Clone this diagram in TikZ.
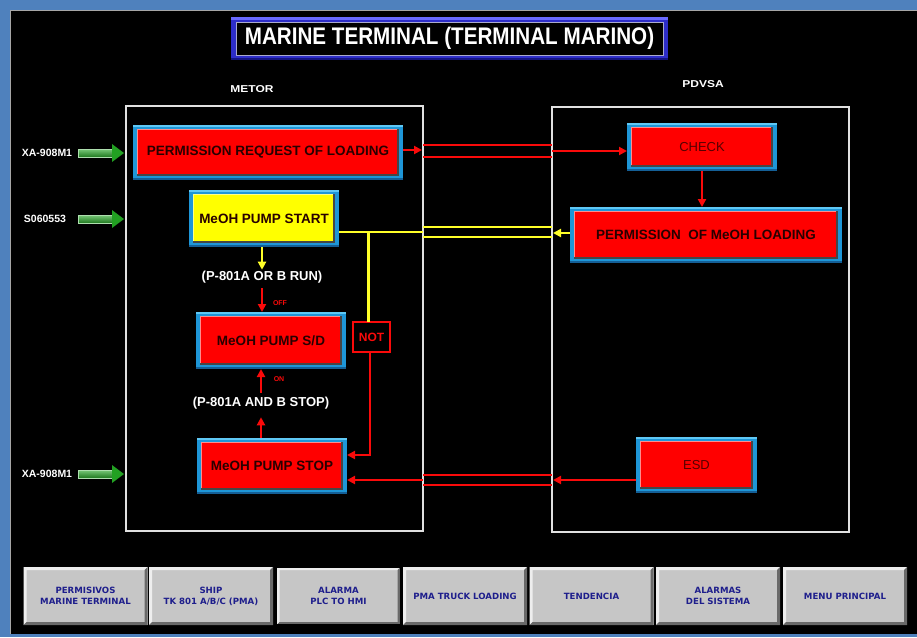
\documentclass[tikz,border=0pt]{standalone}
\usepackage{fontspec}
\setmainfont{Liberation Sans}
\newfontfamily\btnfont{DejaVu Sans}
\usetikzlibrary{arrows.meta,calc}

\definecolor{framebg}{RGB}{79,129,189}
\definecolor{boxblue}{RGB}{30,150,215}
\definecolor{boxlight}{RGB}{95,200,245}
\definecolor{boxdark}{RGB}{20,95,150}
\definecolor{boxshade}{RGB}{70,70,70}
\definecolor{redface}{RGB}{255,0,0}
\definecolor{yellowface}{RGB}{255,255,0}
\definecolor{boxtext}{RGB}{40,0,0}
\definecolor{thintext}{RGB}{85,0,0}
\definecolor{titleblue}{RGB}{45,45,200}
\definecolor{titlelight}{RGB}{105,105,255}
\definecolor{titledark}{RGB}{20,20,130}
\definecolor{titleedge}{RGB}{170,170,205}
\definecolor{panelline}{RGB}{225,225,225}
\definecolor{wirered}{RGB}{250,10,10}
\definecolor{wireyellow}{RGB}{255,255,40}
\definecolor{btngray}{RGB}{198,198,198}
\definecolor{btnlight}{RGB}{238,238,238}
\definecolor{btndark}{RGB}{105,105,105}
\definecolor{btntext}{RGB}{30,30,140}
\definecolor{greenhead}{RGB}{34,160,34}
\definecolor{greenlight}{RGB}{120,200,120}
\definecolor{greendark}{RGB}{30,120,30}

\tikzset{
  % bevelled HMI box: blue frame, coloured face
  bevel/.style 2 args={
    draw=none, fill=boxblue, inner sep=0pt, outer sep=0pt, text=#2,
    path picture={
      \coordinate (bvnw) at (path picture bounding box.north west);
      \coordinate (bvse) at (path picture bounding box.south east);
      \fill[boxlight] (bvnw) rectangle ($(bvse |- bvnw)+(0,2)$);
      \fill[boxdark] ($(bvnw |- bvse)+(0,-2)$) rectangle (bvse);
      \fill[boxshade] ($(bvnw)+(4,4)$) rectangle ($(bvse)+(-4,-4)$);
      \fill[#1] ($(bvnw)+(4,4)$) rectangle ($(bvse)+(-6,-6)$);
      \draw[#1!45!white, line width=1pt]
        ($(bvnw |- bvse)+(4.5,-6)$) -- ($(bvnw)+(4.5,4.5)$) -- ($(bvse |- bvnw)+(-6,4.5)$);
    }
  },
  boldlabel/.style={font=\bfseries\fontsize{13.5}{15}\selectfont},
  thinlabel/.style={font=\fontsize{13}{15}\selectfont},
  redbox/.style={bevel={redface}{boxtext}, boldlabel},
  yellowbox/.style={bevel={yellowface}{boxtext}, boldlabel},
  titlebox/.style={
    fill=titleblue, inner sep=0pt, outer sep=0pt, text=white,
    font=\bfseries\fontsize{24}{28}\selectfont,
    path picture={
      \coordinate (tbnw) at (path picture bounding box.north west);
      \coordinate (tbse) at (path picture bounding box.south east);
      \fill[titlelight] (tbnw) rectangle ($(tbse |- tbnw)+(0,2.5)$);
      \fill[titledark] ($(tbnw |- tbse)+(0,-2.5)$) rectangle (tbse);
      \fill[black] ($(tbnw)+(5,5)$) rectangle ($(tbse)+(-5,-5)$);
      \draw[titleedge, line width=0.8pt] ($(tbnw)+(5,5)$) rectangle ($(tbse)+(-5,-5)$);
    }
  },
  panel/.style={draw=panelline, line width=1.8pt, inner sep=0pt, outer sep=0pt},
  header/.style={text=white, font=\bfseries\fontsize{10}{12}\selectfont},
  tag/.style={text=white, font=\bfseries\fontsize{10.5}{12}\selectfont, inner sep=0pt},
  cond/.style={text=white, font=\bfseries\fontsize{13}{15}\selectfont, inner sep=1pt},
  tinyred/.style={text=wirered, font=\bfseries\fontsize{7}{8}\selectfont, inner sep=0pt},
  notbox/.style={draw=wirered, line width=2.2pt, text=wirered,
    font=\bfseries\fontsize{12}{14}\selectfont, inner sep=0pt, outer sep=0pt},
  redline/.style={draw=wirered, line width=2.4pt},
  redarrow/.style={redline, -{Triangle[length=8pt,width=8pt]}},
  yline/.style={draw=wireyellow, line width=2.4pt},
  yarrow/.style={yline, -{Triangle[length=8pt,width=8pt]}},
  button/.style={
    fill=btngray, inner sep=0pt, outer sep=0pt, text=btntext, align=center,
    minimum width=124, minimum height=58,
    font=\btnfont\bfseries\fontsize{8.6}{11}\selectfont,
    path picture={
      \coordinate (bbnw) at (path picture bounding box.north west);
      \coordinate (bbse) at (path picture bounding box.south east);
      \fill[btnlight] (bbnw) -- (bbnw -| bbse) -- ($(bbnw -| bbse)+(-3,3)$)
        -- ($(bbnw)+(3,3)$) -- ($(bbnw |- bbse)+(3,-3)$) -- (bbnw |- bbse) -- cycle;
      \fill[btndark] (bbse) -- (bbse |- bbnw) -- ($(bbse |- bbnw)+(-3,3)$)
        -- ($(bbse)+(-3,-3)$) -- ($(bbse -| bbnw)+(3,-3)$) -- (bbse -| bbnw) -- cycle;
    }
  },
  activebutton/.style={button, draw=black, line width=1.8pt},
}

\begin{document}
\begin{tikzpicture}[x=1pt,y=-1pt]
\useasboundingbox (0,0) rectangle (917,637);

% screen frame
\fill[framebg] (0,0) rectangle (917,637);
\fill[black] (10,10) rectangle (917,634);
\draw[gray!70, line width=0.8pt] (10,634) -- (10,10) -- (917,10);

% title
\node[titlebox, minimum width=437, minimum height=43] (title) at (449.5,38.5)
  {\scalebox{0.86}[1]{MARINE TERMINAL (TERMINAL MARINO)}};

% panels
\node[header] (metorlbl) at (252,89) {\scalebox{1.2}[1]{METOR}};
\node[header] (pdvsalbl) at (703,84) {\scalebox{1.2}[1]{PDVSA}};
\node[panel, minimum width=297, minimum height=425] (metor) at (274.5,318.5) {};
\node[panel, minimum width=297, minimum height=425] (pdvsa) at (700.5,319.5) {};

% METOR boxes
\node[redbox, minimum width=270, minimum height=55] (req) at (268,152) {PERMISSION REQUEST OF LOADING};
\node[yellowbox, minimum width=150, minimum height=57] (start) at (264,218.5) {MeOH PUMP START};
\node[redbox, minimum width=150, minimum height=57] (sd) at (271,340.5) {MeOH PUMP S/D};
\node[redbox, minimum width=150, minimum height=56] (stop) at (272,466) {MeOH PUMP STOP};
\node[notbox, minimum width=37, minimum height=30] (not) at (371.5,337) {NOT};

% PDVSA boxes
\node[bevel={redface}{thintext}, thinlabel, minimum width=150, minimum height=48] (check) at (702,147) {CHECK};
\node[redbox, minimum width=272, minimum height=56] (perm) at (706,235) {PERMISSION\ \ OF MeOH LOADING};
\node[bevel={redface}{thintext}, thinlabel, minimum width=121, minimum height=56] (esd) at (696.5,465) {ESD};

% conditions
\node[cond] (run) at (262,277) {(P-801A OR B RUN)};
\node[cond] (stopc) at (261,403) {(P-801A AND B STOP)};
\node[tinyred] (off) at (280,303) {OFF};
\node[tinyred] (on) at (279,379) {ON};

% field inputs
\node[tag] (xa1) at (47,153) {XA-908M1};
\node[tag] (s06) at (45,219) {S060553};
\node[tag] (xa2) at (47,474) {XA-908M1};
\foreach \n in {xa1,s06,xa2}{
  \coordinate (tip) at ($(metor.west |- \n)+(-2,0)$);
  \shade[top color=greenlight, bottom color=greendark, draw=greenlight!60!white, line width=0.6pt]
    ($(tip)+(-46,-4)$) rectangle ($(tip)+(-12,4)$);
  \fill[greenhead] ($(tip)+(-12,-9)$) -- (tip) -- ($(tip)+(-12,9)$) -- cycle;
}

% permission request -> check
\draw[redarrow] ($(req.east)+(0,-2)$) -- ($(metor.east |- req.east)+(-1,-2)$);
\draw[redline] ($(metor.east |- req.east)+(0,-7)$) -- ($(pdvsa.west |- req.east)+(0,-7)$);
\draw[redline] ($(metor.east |- req.east)+(0,5)$) -- ($(pdvsa.west |- req.east)+(0,5)$);
\coordinate (c1) at ($(pdvsa.west |- req.east)+(0,-1)$);
\draw[redarrow] (c1) -- (c1 -| check.west);
\draw[redarrow] (check.south) -- (check.south |- perm.north);

% permission of loading -> pump start
\coordinate (p1) at ($(perm.west)+(0,-2)$);
\draw[yarrow] (p1) -- ($(p1 -| pdvsa.west)+(1,0)$);
\coordinate (y0) at ($(start.east)+(0,13.5)$);
\draw[yline] ($(metor.east |- y0)+(0,-5)$) -- ($(pdvsa.west |- y0)+(0,-5)$);
\draw[yline] ($(metor.east |- y0)+(0,5)$) -- ($(pdvsa.west |- y0)+(0,5)$);
\draw[yline] (y0) -- (y0 -| metor.east);
\coordinate (jn) at ($(not.north)+(-3,0)$);
\draw[yline] (y0 -| jn) -- (jn);

% pump start -> pump s/d
\draw[yarrow] (run.north |- start.south) -- (run.north);
\draw[redarrow, shorten <=4pt] (run.south) -- (run.south |- sd.north);

% pump stop -> pump s/d
\draw[redarrow, shorten >=7pt] (stopc.south |- stop.north) -- (stopc.south);
\draw[redarrow, shorten <=3pt] (stopc.north) -- (stopc.north |- sd.south);

% NOT -> pump stop
\coordinate (n1) at ($(not.south)+(-1.5,0)$);
\coordinate (s1) at ($(stop.east)+(0,-11)$);
\draw[redarrow] (n1) |- (s1);

% ESD -> pump stop
\coordinate (e0) at ($(esd.west)+(0,15)$);
\draw[redarrow] (e0) -- ($(e0 -| pdvsa.west)+(1,0)$);
\draw[redline] ($(metor.east |- e0)+(0,-5)$) -- ($(pdvsa.west |- e0)+(0,-5)$);
\draw[redline] ($(metor.east |- e0)+(0,5)$) -- ($(pdvsa.west |- e0)+(0,5)$);
\draw[redarrow] (e0 -| metor.east) -- (e0 -| stop.east);

% navigation buttons
\node[button] (b1) at (85.5,596) {PERMISIVOS\\MARINE TERMINAL};
\node[button] (b2) at (211,596) {SHIP\\TK 801 A/B/C (PMA)};
\node[activebutton] (b3) at (338.5,596) {ALARMA\\PLC TO HMI};
\node[button] (b4) at (465,596) {PMA TRUCK LOADING};
\node[button] (b5) at (591.5,596) {TENDENCIA};
\node[button] (b6) at (718,596) {ALARMAS\\DEL SISTEMA};
\node[button] (b7) at (845,596) {MENU PRINCIPAL};
\end{tikzpicture}
\end{document}
